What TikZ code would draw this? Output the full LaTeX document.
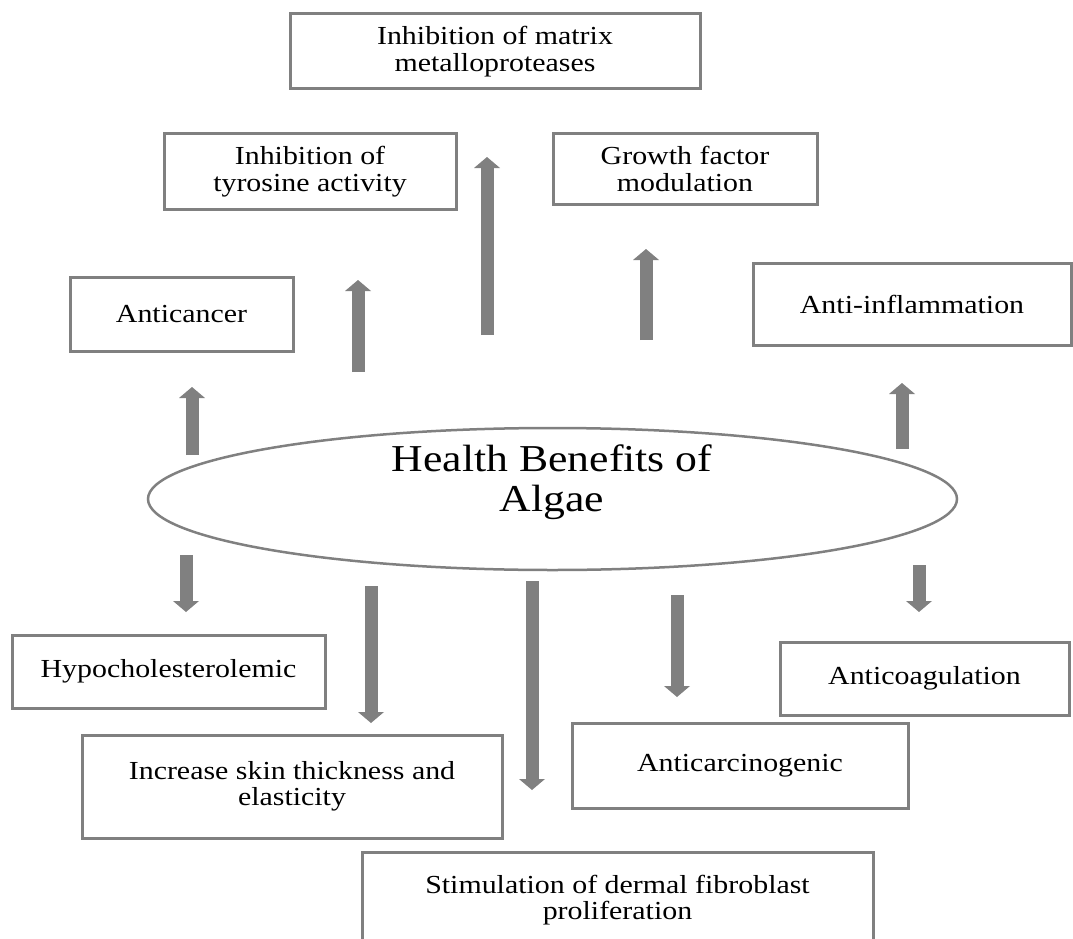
\documentclass[tikz,border=0pt]{standalone}
\usepackage{fontspec}
\setmainfont{Liberation Serif}[FakeStretch=1.15]
\usetikzlibrary{arrows.meta,shapes.geometric}
\definecolor{linegray}{RGB}{128,128,128}

\begin{document}
\begin{tikzpicture}[x=1pt, y=-1pt,
  box/.style={draw=linegray, line width=3pt, inner sep=0pt, align=center, font=\fontsize{26}{26.5}\selectfont},
  hub/.style={ellipse, draw=linegray, line width=2.5pt, inner sep=0pt, minimum width=809pt, minimum height=142pt},
  bigarrow/.style={draw=linegray, line width=13pt, -{Triangle[length=11pt, width=26pt, line width=0pt]}}
]
\useasboundingbox (0,0) rectangle (1073,939);
% centre
\node[hub] (algae) at (552.5,499) {};
\node[font=\fontsize{38}{40}\selectfont, align=center, inner sep=0pt] (title) at (552,482) {Health Benefits of\\Algae};
% upper boxes
\node[box, minimum width=410pt, minimum height=75pt] (mmp) at (495,51.5) {Inhibition of matrix\\metalloproteases};
\node[box, minimum width=292pt, minimum height=75pt] (tyr) at (310,171.5) {Inhibition of\\tyrosine activity};
\node[box, minimum width=264pt, minimum height=70pt] (growth) at (685,169) {Growth factor\\modulation};
\node[box, minimum width=223pt, minimum height=74pt] (cancer) at (181.5,314) {Anticancer};
\node[box, minimum width=318pt, minimum height=82pt] (inflam) at (912,304) {Anti-inflammation};
% lower boxes
\node[box, minimum width=313pt, minimum height=73pt] (chol) at (168.5,671.5) {Hypocholesterolemic};
\node[box, minimum width=289pt, minimum height=73pt] (coag) at (924.5,678.5) {Anticoagulation};
\node[box, minimum width=420pt, minimum height=103pt] (skin) at (292,786.5) {Increase skin thickness and\\elasticity};
\node[box, minimum width=336pt, minimum height=85pt] (carc) at (740,765.5) {Anticarcinogenic};
\node[box, minimum width=511pt, minimum height=96pt] (fibro) at (617.5,900) {Stimulation of dermal fibroblast\\proliferation};
% arrow ends
\coordinate (u1a) at (192,455); \coordinate (u1b) at (192,387);
\coordinate (u2a) at (358,372); \coordinate (u2b) at (358,280);
\coordinate (u3a) at (487,335); \coordinate (u3b) at (487,157);
\coordinate (u4a) at (646,340); \coordinate (u4b) at (646,249);
\coordinate (u5a) at (902,449); \coordinate (u5b) at (902,383);
\coordinate (d1a) at (186,555); \coordinate (d1b) at (186,612);
\coordinate (d2a) at (371,586); \coordinate (d2b) at (371,723);
\coordinate (d3a) at (532,581); \coordinate (d3b) at (532,790);
\coordinate (d4a) at (677,595); \coordinate (d4b) at (677,697);
\coordinate (d5a) at (919,565); \coordinate (d5b) at (919,612);
% up
\draw[bigarrow] (u1a) -- (u1b);
\draw[bigarrow] (u2a) -- (u2b);
\draw[bigarrow] (u3a) -- (u3b);
\draw[bigarrow] (u4a) -- (u4b);
\draw[bigarrow] (u5a) -- (u5b);
% down
\draw[bigarrow] (d1a) -- (d1b);
\draw[bigarrow] (d2a) -- (d2b);
\draw[bigarrow] (d3a) -- (d3b);
\draw[bigarrow] (d4a) -- (d4b);
\draw[bigarrow] (d5a) -- (d5b);
\end{tikzpicture}
\end{document}
